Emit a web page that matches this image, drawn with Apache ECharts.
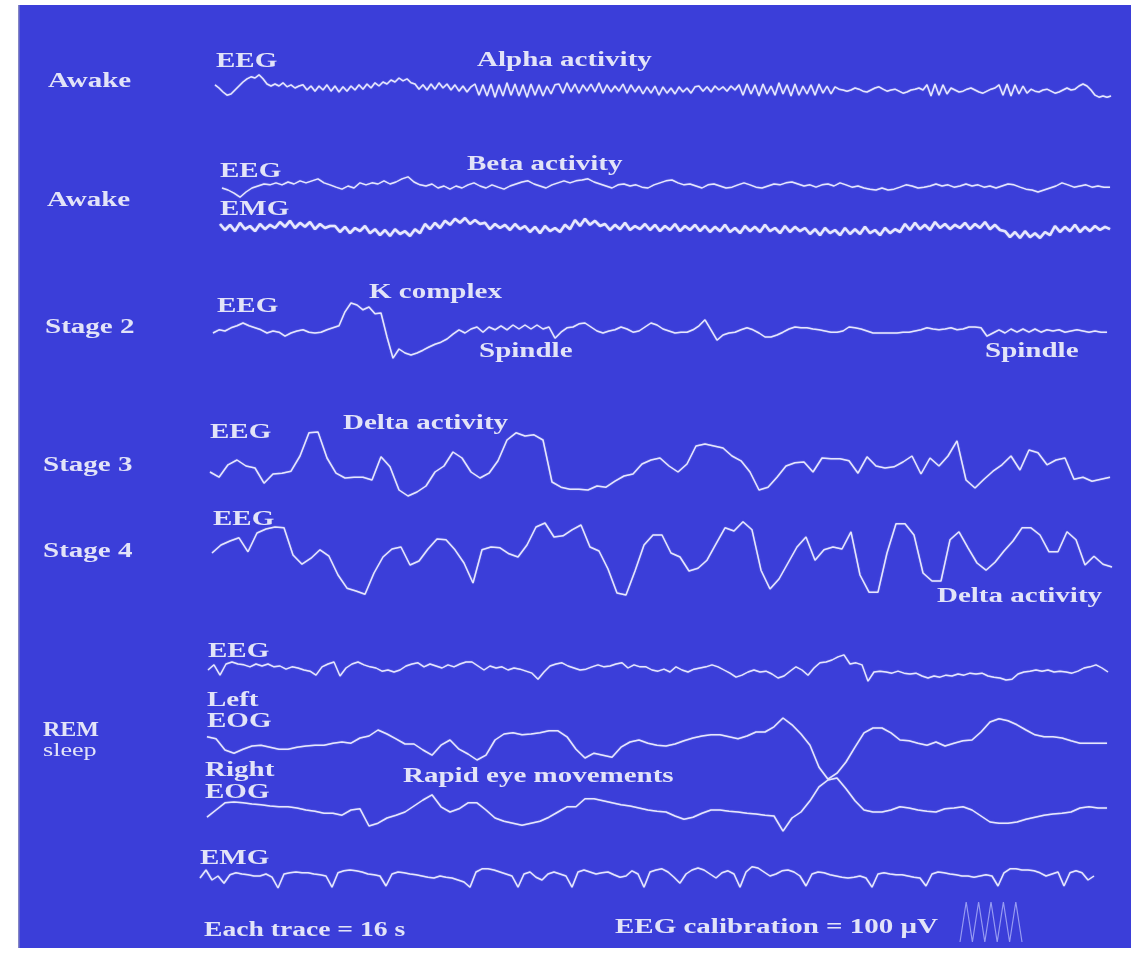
<!DOCTYPE html>
<html>
<head>
<meta charset="utf-8">
<title>Sleep stages – EEG, EOG and EMG traces</title>
<script src="https://cdn.jsdelivr.net/npm/echarts@6/dist/echarts.min.js"></script>
<style>
  html, body { margin: 0; padding: 0; background: #ffffff; }
  #chart { width: 1140px; height: 954px; }
</style>
</head>
<body>
<div id="chart"></div>
<script>
// Each trace covers 16 s; samples are evenly spaced over that window.
// Amplitudes are in microvolts.
const TRACE_SECONDS = 16;

// Awake – EEG with alpha activity
const alphaEeg = [
  8, 0, -10, -18, -15, -5, 5, 15,
  23, 28, 25, 33, 23, 10, 5,
  10, 5, 13, 3, 8, 0, 5,
  8, -5, 5, -8, 5, -5, 8, -8, 5, -10, 3, -8, 5, -5, 8, -3, 10, 0, 13,
  5, 15, 10, 20, 15, 25, 18, 23, 13,
  10, -3, 8, -5, 10, -3, 13, 0, 10, -5, 8, -8, 5, -10, 3,
  10, -18, 8, -20, 10, -23, 8, -20, 13, -18, 10, -20, 8, -23, 10, -18, 8, -20, 5, -15, 8,
  10, -13, 13, -10, 10, -13, 8, -8, 10, -10, 13, -13, 8, -10, 5, -8, 10, -13, 8, -10,
  5, -15, 3, -13, 5, -18, 3, -13, 0, -15, 3, -10, 0, -13, 3,
  5, -8, 3, -10, 5, -5, 3, -8, 5, -5,
  8, -18, 10, -15, 8, -20, 10, -15, 5, -18, 13, -15, 8, -20, 10, -18, 5, -15, 8, -18, 10, -13, 5, -15, 3,
  -3, -5, -8, -5, 0, -3, -8, -10, -5, 0, 3, -3, -8, -5, -3, -8, -13, -10, -5, -3, 0, -5,
  8, -20, 10, -18, 8, -15, 0,
  -5, -10, -8, -3, 0, -5, -10, -13, -8, -3, 0,
  8, -18, 10, -20, 8, -15, 5, -13, -3,
  -8, -10, -5, -3, -8, -13, -10, -5, 0, -5,
  -3, 5, 10, 5, -5, -18, -23, -20, -23, -20
];

// Awake – EEG with beta activity
const betaEeg = [
  -5, -10, -18, -28, -15, -5, 0, 5, 3, 8,
  3, 10, 5, 13, 8, 13, 18, 8, 3, -3,
  -8, 0, -5, 8, 3, 8, 5, 13, 5, 10,
  18, 23, 10, 3, 0, 5, -5, 0, -8, 0,
  -5, 3, 8, 0, -5, 3, -3, -8, 0, 5,
  10, 13, 5, 0, -5, 3, 8, 13, 8, 13,
  15, 18, 10, 5, 0, -5, 3, 5, 0, 3,
  -3, -5, 3, 8, 13, 15, 8, 3, 5, 0,
  -5, 3, 5, 0, -5, -3, 3, 8, 3, -3,
  -5, 0, 5, 3, 8, 10, 5, 0, 3, -3,
  3, 5, 0, 8, 3, -3, 0, -5, -8, -10,
  -5, -10, -8, -3, 3, 0, -5, -3, 0, 5,
  0, 3, -3, 0, 5, 0, 3, -3, 0, -5,
  0, 5, 3, -3, -8, -10, -15, -10, -5, 0,
  8, 3, -3, 0, 3, -3, 0, -3, -3
];

// Awake – chin EMG
const awakeEmg = [
  10, -5, 8, -8, 13, -3, 5, -8, 10, -3, 8,
  0, 15, 3, 18, 0, 13, 3, 15, -3, 10, 0, 5,
  5, -10, 3, -13, 0, -8, 5, -13,
  -3, -18, -5, -20, -3, -15, -8, -20, -3, -13,
  10, -3, 13, 0, 18, 8,
  23, 13, 25, 10, 20, 10,
  13, -3, 10, 0, 8, -5, 10, -3,
  5, -10, 3, -13, 5, -8, 0, -10, 8, -3,
  20, 5, 23, 8, 18, 5,
  10, -5, 8, -3, 13, -5, 5, -3, 10, -5,
  8, -8, 5, -5, 10, -8, 5, -5, 8, -8,
  5, -10, 3, -8, 8, -10, 0, -13, 5, -8, 3, -10, 8, -8, 0, -13, 5, -10, 3, -8,
  0, -15, -3, -18, 0, -13, -5, -18, 0, -15, -3, -15, 3, -13, -5, -18, 0, -13, -3, -10,
  10, -5, 13, -3, 8, -5, 15, 0, 10, -3, 8, 0,
  13, -3, 10, 0, 15, -3, 8, -5,
  -8, -23, -10, -25, -8, -23, -13, -25, -10, -18,
  5, -10, 3, -8, 8, -10, 3, -8, 5, -5, 3, -3
];

// Stage 2 – EEG with K complex and sleep spindles
const stage2Eeg = [
  -5, 3, 0, 8, 13, 20, 13, 8, 3, -5,
  0, -3, -13, -5, 0, 3, -3, -5, -3, 3,
  8, 13, 48, 70, 65, 53, 60, 43, 45, -15,
  -68, -45, -55, -60, -55, -48, -40, -33, -28, -20,
  -8, 3, -5, 5, 10, -3, 10, 3, 13, 3,
  15, 5, 15, 5, 15, 5, 10, -18, -3, 8,
  10, 18, 20, 10, 0, -5, 0, 3, 10, 5,
  -3, 0, 10, 20, 15, 5, 0, -5, -3, -3,
  3, 13, 28, 3, -23, -10, -5, -3, 3, 8,
  3, -5, -15, -15, -10, -3, 5, 10, 8, 8,
  5, 3, 0, -3, -3, 0, 10, 8, 5, 0,
  -5, -5, -5, -5, -5, -3, -3, 0, 3, 8,
  5, 3, 5, 8, 3, 5, 10, 10, 8, -13,
  -5, 3, -5, 5, -3, 5, -3, 5, -3, 3,
  0, 3, -3, 0, 3, 0, -3, 0, -3, -3
];

// Stage 3 – EEG with delta activity
const stage3Eeg = [
  -10, -23, 8, 20, 5, 0, -38, -15, -13, -8,
  30, 88, 90, 25, -13, -25, -23, -23, -30, 28,
  3, -55, -70, -60, -45, -10, 5, 40, 25, -10,
  -25, -13, 18, 70, 88, 80, 83, 70, -35, -48,
  -53, -53, -55, -45, -48, -33, -20, -15, 10, 20,
  25, 5, -10, 10, 55, 60, 55, 50, 30, 18,
  -10, -55, -48, -23, 5, 13, 15, -10, 25, 23,
  23, 18, -13, 28, 5, 0, 3, 15, 30, -15,
  25, 5, 30, 68, -30, -50, -28, -8, 8, 30,
  -5, 45, 38, 8, 20, 25, -28, -23, -33, -28,
  -23
];

// Stage 4 – EEG dominated by delta activity
const stage4Eeg = [
  5, 25, 35, 43, 8, 55, 65, 70, 68, 0,
  -23, -8, 13, -3, -50, -83, -90, -98, -45, -5,
  15, 20, -25, -15, 15, 40, 38, 13, -20, -70,
  13, 20, 18, 3, -5, 25, 70, 80, 45, 48,
  63, 75, 20, 10, -35, -95, -100, -40, 25, 50,
  50, 5, -5, -40, -33, -13, 28, 68, 60, 83,
  63, -38, -85, -60, -20, 20, 45, -13, 13, 20,
  15, 58, -50, -93, -93, 5, 78, 78, 50, -45,
  -65, -65, 38, 58, 18, -20, -38, -18, 10, 35,
  68, 68, 50, 8, 8, 58, 38, -25, -3, -23,
  -30
];

// REM sleep – EEG
const remEeg = [
  -5, 8, -18, 10, 15, 10, 8, 3, 10, 5,
  10, 3, 5, -3, 3, 0, -5, -8, -18, 3,
  10, 15, -20, 0, 10, 15, 8, 3, 0, -8,
  -5, -10, -5, 5, 10, 13, 3, 10, 5, 0,
  8, 3, 10, 15, 15, 5, -5, 5, 0, 3,
  -5, 0, -3, -8, -13, -28, -10, 5, 10, 13,
  5, 0, -5, -3, 3, 8, 3, 5, 10, 13,
  0, 8, 3, 3, -5, -8, -3, -10, 3, -5,
  -10, -3, 0, 3, 8, 3, -5, -13, -23, -18,
  -10, -5, -10, -8, -15, -25, -20, -8, 3, -5,
  -18, 0, 13, 15, 20, 28, 33, 10, 13, 8,
  -33, -10, -8, -10, -13, -8, -13, -15, -13, -20,
  -25, -20, -23, -18, -20, -15, -18, -13, -15, -13,
  -20, -23, -25, -30, -28, -15, -10, -8, -5, -8,
  -5, -10, -8, -10, -13, -8, 0, 3, 8, 0,
  -10
];

// REM sleep – left electro-oculogram
const leftEog = [
  13, 8, -20, -28, -18, -10, -8, -13, -18, -18,
  -13, -10, -8, -8, -3, 0, -3, 10, 15, 30,
  20, 8, -5, -5, -20, -33, -8, 5, -18, -30,
  -45, -33, 5, 20, 23, 18, 20, 23, 28, 28,
  13, -18, -40, -28, -33, -38, -13, 0, 5, -3,
  -8, -10, -5, 3, 10, 15, 18, 18, 13, 8,
  15, 25, 25, 38, 60, 43, 20, -8, -63, -93,
  -78, -50, -13, 23, 35, 35, 23, 5, 3, -3,
  -8, 0, -10, -3, 3, 5, 25, 50, 58, 53,
  43, 30, 18, 13, 13, 10, 3, -3, -3, -3,
  -3
];

// REM sleep – right electro-oculogram
const rightEog = [
  -18, 0, 18, 20, 18, 15, 13, 10, 8, 8,
  5, 0, -3, -8, -8, -13, 0, 3, -40, -33,
  -20, -13, -5, 10, 25, 38, 8, -5, 3, 18,
  18, 0, -20, -28, -33, -38, -33, -28, -18, -5,
  8, 8, 28, 28, 23, 18, 13, 10, 5, 0,
  -3, -5, -15, -23, -18, -8, 0, 0, -3, -5,
  -8, -10, -13, -15, -53, -20, -5, 23, 58, 75,
  80, 53, 23, 0, -5, -5, 0, 8, 5, 0,
  -3, -5, 3, 5, 8, 0, -15, -30, -33, -33,
  -30, -23, -18, -13, -10, -8, -5, 5, 8, 5,
  5
];

// REM sleep – chin EMG
const remEmg = [
  -5, 15, -10, 0, -18, 3, 8, 5, 3, 0,
  0, 5, -3, -30, 5, 8, 10, 8, 8, 5,
  3, 0, -28, 8, 13, 15, 13, 10, 5, 3,
  0, -25, 5, 10, 8, 5, 3, 0, -3, -5,
  0, -3, -5, -10, -15, -28, 10, 18, 18, 15,
  10, 5, 0, -28, 5, 10, -3, -10, 5, 10,
  5, 0, -28, 10, 15, 10, 5, 8, 10, 3,
  -3, 0, 13, 5, -28, 10, 15, 18, 10, -3,
  -18, 5, 15, 20, 15, 5, -5, 8, 13, 5,
  -28, 10, 23, 20, 10, 0, 5, 13, 15, 10,
  0, -25, 5, 10, 8, 3, 0, -3, -5, -3,
  0, -5, -28, 5, 8, 5, 3, 3, 0, -3,
  -5, -25, 5, 10, 8, 5, 3, 0, 0, -3,
  0, 3, 0, -25, 8, 18, 18, 15, 15, 13,
  8, 0, 5, 10, -25, 8, 13, 8, -10, 0
];

// 100 µV calibration pulses
const calibrationPulse = [0, 100, 0, 100, 0, 100, 0, 100, 0, 100, 0];

// Where each trace sits on the page: horizontal extent, baseline and
// the room (px) kept above/below the baseline for its panel
const layout = [
  { data: alphaEeg,         x0: 215, x1: 1111, yc: 88,  up: 80, down: 60, w: 1.5 },
  { data: betaEeg,          x0: 222, x1: 1110, yc: 186, up: 60, down: 30, w: 1.4 },
  { data: awakeEmg,         x0: 220, x1: 1110, yc: 228, up: 30, down: 60, w: 2.6 },
  { data: stage2Eeg,        x0: 213, x1: 1107, yc: 331, up: 80, down: 80, w: 1.5 },
  { data: stage3Eeg,        x0: 210, x1: 1110, yc: 468, up: 80, down: 60, w: 1.5 },
  { data: stage4Eeg,        x0: 212, x1: 1112, yc: 555, up: 60, down: 80, w: 1.5 },
  { data: remEeg,           x0: 208, x1: 1108, yc: 668, up: 60, down: 40, w: 1.4 },
  { data: leftEog,          x0: 207, x1: 1107, yc: 742, up: 60, down: 60, w: 1.5 },
  { data: rightEog,         x0: 207, x1: 1107, yc: 810, up: 60, down: 60, w: 1.5 },
  { data: remEmg,           x0: 200, x1: 1094, yc: 876, up: 40, down: 40, w: 1.5 },
  { data: calibrationPulse, x0: 960, x1: 1022, yc: 942, up: 45, down: 5,  w: 1.2, faint: true }
];

// Vertical scale shared by all traces: 2.5 µV per pixel
const UV_PER_PX = 2.5;

const TRACE_COLOR = '#e6e7fd';
const TEXT_COLOR = '#e2e3f8';
const BLUE = '#3b3ed9';

const grids = [], xAxes = [], yAxes = [], series = [];
layout.forEach((tr, k) => {
  grids.push({
    left: tr.x0, top: tr.yc - tr.up,
    width: tr.x1 - tr.x0, height: tr.up + tr.down,
    containLabel: false
  });
  xAxes.push({ type: 'value', gridIndex: k, min: 0, max: TRACE_SECONDS, show: false });
  yAxes.push({
    type: 'value', gridIndex: k,
    min: -tr.down * UV_PER_PX, max: tr.up * UV_PER_PX, show: false
  });
  const n = tr.data.length;
  series.push({
    type: 'line',
    xAxisIndex: k, yAxisIndex: k,
    data: tr.data.map((v, i) => [i * TRACE_SECONDS / (n - 1), v]),
    showSymbol: false,
    smooth: false,
    animation: false,
    silent: true,
    clip: false,
    lineStyle: {
      color: tr.faint ? 'rgba(200,205,255,0.65)' : TRACE_COLOR,
      width: tr.w,
      shadowColor: 'rgba(225,228,255,0.5)',
      shadowBlur: tr.faint ? 0 : 1.5
    }
  });
});

// Text annotations: [text, left x, vertical middle y, font, horizontal stretch]
const BOLD = 'bold 20px "Liberation Serif", "DejaVu Serif", serif';
const PLAIN = '18px "Liberation Serif", "DejaVu Serif", serif';
const labels = [
  ['Awake', 48, 82, BOLD, 1.45],
  ['EEG', 216, 62, BOLD, 1.45],
  ['Alpha activity', 477, 61, BOLD, 1.45],
  ['EEG', 220, 172, BOLD, 1.45],
  ['Beta activity', 467, 165, BOLD, 1.45],
  ['Awake', 47, 201, BOLD, 1.45],
  ['EMG', 220, 210, BOLD, 1.45],
  ['Stage 2', 45, 328, BOLD, 1.45],
  ['EEG', 217, 307, BOLD, 1.45],
  ['K complex', 369, 293, BOLD, 1.45],
  ['Spindle', 479, 352, BOLD, 1.45],
  ['Spindle', 985, 352, BOLD, 1.45],
  ['Stage 3', 43, 466, BOLD, 1.45],
  ['EEG', 210, 433, BOLD, 1.45],
  ['Delta activity', 343, 424, BOLD, 1.45],
  ['Stage 4', 43, 552, BOLD, 1.45],
  ['EEG', 213, 520, BOLD, 1.45],
  ['Delta activity', 937, 597, BOLD, 1.45],
  ['EEG', 208, 652, BOLD, 1.45],
  ['Left', 207, 701, BOLD, 1.45],
  ['EOG', 207, 722, BOLD, 1.45],
  ['Right', 205, 771, BOLD, 1.45],
  ['EOG', 205, 793, BOLD, 1.45],
  ['Rapid eye movements', 403, 777, BOLD, 1.45],
  ['REM', 43, 731, BOLD, 1.2],
  ['sleep', 43, 751, PLAIN, 1.45],
  ['EMG', 200, 859, BOLD, 1.45],
  ['Each trace = 16 s', 204, 931, BOLD, 1.38],
  ['EEG calibration = 100 \u03bcV', 615, 928, BOLD, 1.45]
];

const graphicElements = [
  // white page margins around the blue panel
  { type: 'rect', shape: { x: 0, y: 0, width: 18, height: 954 }, style: { fill: '#ffffff' } },
  { type: 'rect', shape: { x: 0, y: 0, width: 1140, height: 5 }, style: { fill: '#ffffff' } },
  { type: 'rect', shape: { x: 1131, y: 0, width: 9, height: 954 }, style: { fill: '#ffffff' } },
  { type: 'rect', shape: { x: 0, y: 948, width: 1140, height: 6 }, style: { fill: '#ffffff' } },
  { type: 'rect', shape: { x: 18, y: 5, width: 1.5, height: 943 }, style: { fill: '#8485c4' } }
];
labels.forEach(([text, x, y, font, sx]) => {
  graphicElements.push({
    type: 'text', x, y, scaleX: sx,
    style: { text, font, fill: TEXT_COLOR, align: 'left', verticalAlign: 'middle' }
  });
});

const chart = echarts.init(document.getElementById('chart'), null, { renderer: 'canvas' });
chart.setOption({
  backgroundColor: BLUE,
  animation: false,
  grid: grids,
  xAxis: xAxes,
  yAxis: yAxes,
  series,
  graphic: { elements: graphicElements }
});
</script>
</body>
</html>
